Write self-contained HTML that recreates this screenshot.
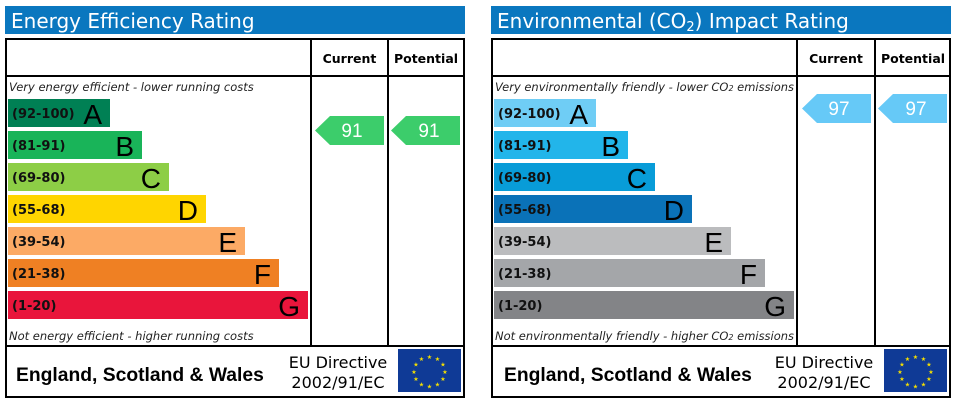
<!DOCTYPE html>
<html><head><meta charset="utf-8"><style>
html,body{margin:0;padding:0;background:#fff;}
svg{display:block;font-family:"DejaVu Sans","Liberation Sans",sans-serif;}
.t{font-size:20px;fill:#fff;}
.h{font-size:12.5px;font-weight:bold;fill:#000;}
.n{font-size:11.5px;font-style:italic;fill:#222;}
.r{font-size:13px;font-weight:bold;fill:#111;}
.l{font-family:"Liberation Sans",sans-serif;font-size:28px;fill:#000;}
.a{font-family:"Liberation Sans",sans-serif;font-size:19px;fill:#fff;}
.f{font-family:"Liberation Sans",sans-serif;font-size:19.3px;font-weight:bold;fill:#000;}
.e{font-size:16px;fill:#000;}
</style></head><body>
<svg width="957" height="404" viewBox="0 0 957 404">
<defs>
<g id="flag">
<rect x="0" y="0" width="63" height="43" fill="#0f3a96"/>
<g fill="#f5e000" font-size="6" text-anchor="middle" font-family="DejaVu Sans">
<text x="31.5" y="10">★</text><text x="39.5" y="12">★</text><text x="45" y="17.5">★</text><text x="47" y="25">★</text><text x="45" y="32">★</text><text x="39.5" y="37.5">★</text><text x="31.5" y="39.5">★</text><text x="23.5" y="37.5">★</text><text x="18" y="32">★</text><text x="16" y="25">★</text><text x="18" y="17.5">★</text><text x="23.5" y="12">★</text>
</g></g>
</defs>
<!-- LEFT -->
<g>
<rect x="5" y="6" width="460" height="28" fill="#0a77bf"/>
<text class="t" x="11" y="28">Energy Efficiency Rating</text>
<rect x="6" y="39" width="458" height="358" fill="#fff" stroke="#000" stroke-width="2"/>
<line x1="5" y1="76" x2="465" y2="76" stroke="#000" stroke-width="2"/>
<line x1="5" y1="346" x2="465" y2="346" stroke="#000" stroke-width="2"/>
<line x1="311" y1="38" x2="311" y2="346" stroke="#000" stroke-width="2"/>
<line x1="388" y1="38" x2="388" y2="346" stroke="#000" stroke-width="2"/>
<text class="h" x="349.5" y="63" text-anchor="middle">Current</text>
<text class="h" x="426" y="63" text-anchor="middle">Potential</text>
<text class="n" x="9" y="91">Very energy efficient - lower running costs</text>
<text class="n" x="9" y="340">Not energy efficient - higher running costs</text>
<rect x="8" y="99" width="102" height="28" fill="#008054"/><text class="r" x="12" y="118">(92-100)</text><text class="l" x="102" y="124" text-anchor="end">A</text>
<rect x="8" y="131" width="134" height="28" fill="#19b459"/><text class="r" x="12" y="150">(81-91)</text><text class="l" x="134" y="156" text-anchor="end">B</text>
<rect x="8" y="163" width="161" height="28" fill="#8dce46"/><text class="r" x="12" y="182">(69-80)</text><text class="l" x="161" y="188" text-anchor="end">C</text>
<rect x="8" y="195" width="198" height="28" fill="#ffd500"/><text class="r" x="12" y="214">(55-68)</text><text class="l" x="198" y="220" text-anchor="end">D</text>
<rect x="8" y="227" width="237" height="28" fill="#fcaa65"/><text class="r" x="12" y="246">(39-54)</text><text class="l" x="237" y="252" text-anchor="end">E</text>
<rect x="8" y="259" width="271" height="28" fill="#ef8023"/><text class="r" x="12" y="278">(21-38)</text><text class="l" x="271" y="284" text-anchor="end">F</text>
<rect x="8" y="291" width="300" height="28" fill="#e9153b"/><text class="r" x="12" y="310">(1-20)</text><text class="l" x="300" y="316" text-anchor="end">G</text>
<polygon points="315,130.5 330,116 384,116 384,145 330,145" fill="#3ccd6b"/><text class="a" x="352" y="137" text-anchor="middle">91</text>
<polygon points="391,130.5 406,116 460,116 460,145 406,145" fill="#3ccd6b"/><text class="a" x="429" y="137" text-anchor="middle">91</text>
<text class="f" x="16" y="381">England, Scotland &amp; Wales</text>
<text class="e" x="338" y="368" text-anchor="middle">EU Directive</text>
<text class="e" x="338" y="388" text-anchor="middle">2002/91/EC</text>
<use href="#flag" x="398" y="349"/>
</g>
<!-- RIGHT -->
<g transform="translate(486,0)">
<rect x="5" y="6" width="460" height="28" fill="#0a77bf"/>
<text class="t" x="11" y="28">Environmental (CO<tspan font-size="13" dy="3">2</tspan><tspan dy="-3">) Impact Rating</tspan></text>
<rect x="6" y="39" width="458" height="358" fill="#fff" stroke="#000" stroke-width="2"/>
<line x1="5" y1="76" x2="465" y2="76" stroke="#000" stroke-width="2"/>
<line x1="5" y1="346" x2="465" y2="346" stroke="#000" stroke-width="2"/>
<line x1="311" y1="38" x2="311" y2="346" stroke="#000" stroke-width="2"/>
<line x1="389" y1="38" x2="389" y2="346" stroke="#000" stroke-width="2"/>
<text class="h" x="350" y="63" text-anchor="middle">Current</text>
<text class="h" x="427" y="63" text-anchor="middle">Potential</text>
<text class="n" x="9" y="91" textLength="299" lengthAdjust="spacingAndGlyphs">Very environmentally friendly - lower CO<tspan font-size="8">2</tspan> emissions</text>
<text class="n" x="9" y="340" textLength="299" lengthAdjust="spacingAndGlyphs">Not environmentally friendly - higher CO<tspan font-size="8">2</tspan> emissions</text>
<rect x="8" y="99" width="102" height="28" fill="#6fcdf5"/><text class="r" x="12" y="118">(92-100)</text><text class="l" x="102" y="124" text-anchor="end">A</text>
<rect x="8" y="131" width="134" height="28" fill="#22b5ea"/><text class="r" x="12" y="150">(81-91)</text><text class="l" x="134" y="156" text-anchor="end">B</text>
<rect x="8" y="163" width="161" height="28" fill="#089cd8"/><text class="r" x="12" y="182">(69-80)</text><text class="l" x="161" y="188" text-anchor="end">C</text>
<rect x="8" y="195" width="198" height="28" fill="#0a72b8"/><text class="r" x="12" y="214">(55-68)</text><text class="l" x="198" y="220" text-anchor="end">D</text>
<rect x="8" y="227" width="237" height="28" fill="#bbbcbe"/><text class="r" x="12" y="246">(39-54)</text><text class="l" x="237" y="252" text-anchor="end">E</text>
<rect x="8" y="259" width="271" height="28" fill="#a4a6a9"/><text class="r" x="12" y="278">(21-38)</text><text class="l" x="271" y="284" text-anchor="end">F</text>
<rect x="8" y="291" width="300" height="28" fill="#838487"/><text class="r" x="12" y="310">(1-20)</text><text class="l" x="300" y="316" text-anchor="end">G</text>
<polygon points="316,108.5 331,94 385,94 385,123 331,123" fill="#66c9f7"/><text class="a" x="353" y="115" text-anchor="middle">97</text>
<polygon points="392,108.5 407,94 461,94 461,123 407,123" fill="#66c9f7"/><text class="a" x="430" y="115" text-anchor="middle">97</text>
<text class="f" x="18" y="381">England, Scotland &amp; Wales</text>
<text class="e" x="338" y="368" text-anchor="middle">EU Directive</text>
<text class="e" x="338" y="388" text-anchor="middle">2002/91/EC</text>
<use href="#flag" x="398" y="349"/>
</g>
</svg>
</body></html>
